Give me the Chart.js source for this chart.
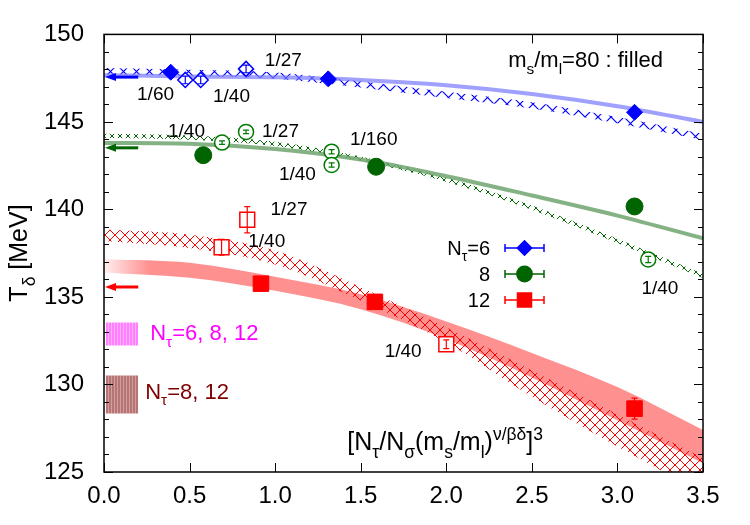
<!DOCTYPE html>
<html>
<head>
<meta charset="utf-8">
<script src="https://cdn.jsdelivr.net/npm/chart.js@4.4.1/dist/chart.umd.min.js"></script>
<style>
  body { margin: 0; background: #fff; }
  #wrap { width: 750px; height: 525px; }
</style>
</head>
<body>
<div id="wrap"><canvas id="chart" width="750" height="525"></canvas></div>
<script>
// ---- data ----
// Nt = 6 (diamonds)
const nt6X = [0.39, 1.31, 3.10];
const nt6Y = [147.84, 147.46, 145.55];
const nt6OpenX = [0.475, 0.565, 0.83];
const nt6OpenY = [147.4, 147.4, 148.03];
const nt6OpenErr = [0.22, 0.22, 0.22];

// Nt = 8 (circles)
const nt8X = [0.58, 1.59, 3.10];
const nt8Y = [143.1, 142.44, 140.17];
const nt8OpenX = [0.69, 0.83, 1.33, 1.33, 3.18];
const nt8OpenY = [143.82, 144.43, 143.3, 142.54, 137.14];
const nt8OpenErr = [0.1, 0.1, 0.12, 0.12, 0.18];

// Nt = 12 (squares)
const nt12X = [0.917, 1.583, 3.10];
const nt12Y = [135.76, 134.72, 128.62];
const nt12Err = [0, 0, 0.6];
const nt12OpenX = [0.687, 0.837, 2.0];
const nt12OpenY = [137.84, 139.41, 132.3];
const nt12OpenErr = [0.45, 0.75, 0.25];

// fitted curves and bands, sampled along x
const fitX = [0, 0.5, 1.0, 1.5, 2.0, 2.5, 3.0, 3.5];
const blueFit = [147.67, 147.6, 147.55, 147.4, 147.1, 146.6, 145.9, 145.0];
const blueZigHi = [148.08, 147.98, 147.83, 147.33, 146.73, 146.13, 145.28, 144.33];
const blueZigLo = [147.72, 147.62, 147.47, 146.97, 146.37, 145.77, 144.92, 143.97];
const greenFit = [143.8, 143.75, 143.45, 142.85, 141.9, 140.8, 139.65, 138.35];
const greenZigHi = [144.32, 144.22, 143.87, 143.02, 141.82, 140.22, 138.32, 136.32];
const greenZigLo = [144.08, 143.98, 143.63, 142.78, 141.58, 139.98, 138.08, 136.08];
const redHatchHi = [138.85, 138.56, 137.65, 135.55, 133.25, 130.8, 128.3, 125.8];
const redHatchLo = [138.2, 137.8, 136.86, 134.8, 132.4, 129.3, 126.45, 123.8];
const redBandHi = [137.15, 136.95, 136.15, 135.15, 133.6, 131.8, 129.85, 127.4];
const redBandLo = [136.4, 136.1, 135.35, 134.3, 132.6, 130.4, 127.95, 125.5];

// continuum bands at the left edge
const rectX = [0.01, 0.2];
const pinkBand = [133.54, 132.22];
const brownBand = [130.51, 128.34];

// arrows at x = 0 (chiral limit estimates)
const arrowY = [147.56, 143.52, 135.57];
const arrowColors = ["#0000ff", "#006400", "#ff0000"];
const arrowLen = 0.2;

// tick labels
const xTicks = [0, 0.5, 1.0, 1.5, 2.0, 2.5, 3.0, 3.5];
const yTicks = [125, 130, 135, 140, 145, 150];

// fraction labels next to the open symbols (data coords, text baseline)
const fracNotes = [
  { x: 0.94, y: 148.18, t: "1/27" },
  { x: 0.193, y: 146.25, t: "1/60" },
  { x: 0.637, y: 146.14, t: "1/40" },
  { x: 0.374, y: 144.15, t: "1/40" },
  { x: 0.923, y: 144.15, t: "1/27" },
  { x: 1.437, y: 143.68, t: "1/160" },
  { x: 1.022, y: 141.69, t: "1/40" },
  { x: 3.14, y: 135.17, t: "1/40" },
  { x: 0.973, y: 139.7, t: "1/27" },
  { x: 0.843, y: 137.84, t: "1/40" },
  { x: 1.64, y: 131.59, t: "1/40" },
];

const FONT = '"Liberation Sans", Arial, Helvetica, sans-serif';
Chart.defaults.font.family = FONT;
Chart.defaults.color = "#000";

const pts = (xs, ys) => xs.map((x, i) => ({ x, y: ys[i] }));

function hatch(color, size, width) {
  const c = document.createElement("canvas");
  c.width = c.height = size;
  const g = c.getContext("2d");
  g.strokeStyle = color;
  g.lineWidth = width;
  g.beginPath();
  g.moveTo(0, 0); g.lineTo(size, size);
  g.moveTo(size, 0); g.lineTo(0, size);
  g.stroke();
  return g.createPattern(c, "repeat");
}

function stripes(base, line, size) {
  const c = document.createElement("canvas");
  c.width = size; c.height = 4;
  const g = c.getContext("2d");
  g.fillStyle = base; g.fillRect(0, 0, size, 4);
  g.fillStyle = line; g.fillRect(0, 0, 1, 4);
  return g.createPattern(c, "repeat");
}

function rich(ctx, parts, x, y, size, align) {
  const f = (s) => s + "px " + FONT;
  let w = 0;
  parts.forEach(([t, m]) => { ctx.font = f(m ? size * 0.7 : size); w += ctx.measureText(t).width; });
  let cx = align === "right" ? x - w : align === "center" ? x - w / 2 : x;
  ctx.textAlign = "left";
  ctx.textBaseline = "alphabetic";
  parts.forEach(([t, m]) => {
    ctx.font = f(m ? size * 0.7 : size);
    const dy = m === "sub" ? size * 0.3 : m === "sup" ? -size * 0.42 : 0;
    ctx.fillText(t, cx, y + dy);
    cx += ctx.measureText(t).width;
  });
}

const edge = (data, extra) => Object.assign({
  data, showLine: true, pointRadius: 0, borderWidth: 0,
  borderColor: "transparent", cubicInterpolationMode: "monotone",
}, extra);

const redFade = (c) => {
  const a = c.chart.chartArea;
  if (!a) return "rgba(255,120,120,0.8)";
  const g = c.chart.ctx.createLinearGradient(a.left, 0, a.left + 45, 0);
  g.addColorStop(0, "rgba(255,120,120,0.12)");
  g.addColorStop(1, "rgba(255,120,120,0.82)");
  return g;
};

const legendRows = [
  { parts: [["N"], ["τ", "sub"], ["=6"]], ds: 0 },
  { parts: [["8"]], ds: 1 },
  { parts: [["12"]], ds: 2 },
];

const ink = {
  id: "ink",
  afterDatasetsDraw(chart) {
    const { ctx, scales: { x, y } } = chart;
    chart.data.datasets.forEach((ds) => {
      if (!ds.errors) return;
      ctx.save();
      ctx.strokeStyle = ds.borderColor;
      ctx.lineWidth = 1.2;
      ds.data.forEach((p, j) => {
        const e = ds.errors[j];
        if (!e) return;
        const px = x.getPixelForValue(p.x);
        const y1 = y.getPixelForValue(p.y - e), y2 = y.getPixelForValue(p.y + e);
        ctx.beginPath();
        ctx.moveTo(px, y1); ctx.lineTo(px, y2);
        ctx.moveTo(px - 3, y1); ctx.lineTo(px + 3, y1);
        ctx.moveTo(px - 3, y2); ctx.lineTo(px + 3, y2);
        ctx.stroke();
      });
      ctx.restore();
    });
  },
  afterDraw(chart) {
    const { ctx, chartArea: a, scales: { x, y } } = chart;
    ctx.save();

    // arrows
    arrowY.forEach((v, i) => {
      const py = y.getPixelForValue(v);
      const x0 = x.getPixelForValue(0), x1 = x.getPixelForValue(arrowLen);
      ctx.strokeStyle = ctx.fillStyle = arrowColors[i];
      ctx.lineWidth = 3;
      ctx.beginPath(); ctx.moveTo(x0 + 8, py); ctx.lineTo(x1, py); ctx.stroke();
      ctx.beginPath(); ctx.moveTo(x0 + 1, py); ctx.lineTo(x0 + 12, py - 4); ctx.lineTo(x0 + 12, py + 4); ctx.closePath(); ctx.fill();
    });

    // ticks (inward, mirrored)
    ctx.strokeStyle = "#000";
    ctx.lineWidth = 1;
    ctx.beginPath();
    for (let v = 125; v <= 150; v++) {
      const py = Math.round(y.getPixelForValue(v)) + 0.5;
      const L = v % 5 === 0 ? 9 : 5;
      ctx.moveTo(a.left, py); ctx.lineTo(a.left + L, py);
      ctx.moveTo(a.right, py); ctx.lineTo(a.right - L, py);
    }
    xTicks.forEach((v) => {
      const px = Math.round(x.getPixelForValue(v)) + 0.5;
      ctx.moveTo(px, a.bottom); ctx.lineTo(px, a.bottom - 9);
      ctx.moveTo(px, a.top); ctx.lineTo(px, a.top + 9);
    });
    ctx.stroke();
    ctx.lineWidth = 1.5;
    ctx.strokeRect(a.left, a.top, a.right - a.left, a.bottom - a.top);

    // fraction labels
    ctx.fillStyle = "#000";
    ctx.font = "19px " + FONT;
    ctx.textAlign = "left";
    ctx.textBaseline = "alphabetic";
    fracNotes.forEach((n) => ctx.fillText(n.t, x.getPixelForValue(n.x), y.getPixelForValue(n.y)));

    // note
    rich(ctx, [["m"], ["s", "sub"], ["/m"], ["l", "sub"], ["=80 : filled"]], 663, 67, 22, "right");

    // legend
    legendRows.forEach((r, i) => {
      const ds = chart.data.datasets[r.ds];
      const cy = 248 + i * 26;
      ctx.fillStyle = "#000";
      rich(ctx, r.parts, 490, cy + 7, 20, "right");
      ctx.strokeStyle = ds.borderColor;
      ctx.fillStyle = ds.backgroundColor;
      ctx.lineWidth = 1.5;
      ctx.beginPath();
      ctx.moveTo(505, cy); ctx.lineTo(544, cy);
      ctx.moveTo(505, cy - 4); ctx.lineTo(505, cy + 4);
      ctx.moveTo(544, cy - 4); ctx.lineTo(544, cy + 4);
      ctx.stroke();
      Chart.helpers.drawPoint(ctx, { pointStyle: ds.pointStyle, radius: ds.pointRadius * 0.9, rotation: 0, borderWidth: 1 }, 524.5, cy);
    });

    // continuum band labels
    const bx = x.getPixelForValue(rectX[1]);
    ctx.fillStyle = "#ff00ff";
    rich(ctx, [["N"], ["τ", "sub"], ["=6, 8, 12"]], bx + 12, y.getPixelForValue((pinkBand[0] + pinkBand[1]) / 2) + 6, 22, "left");
    ctx.fillStyle = "#800000";
    rich(ctx, [["N"], ["τ", "sub"], ["=8, 12"]], bx + 7, y.getPixelForValue((brownBand[0] + brownBand[1]) / 2) + 4, 22, "left");

    // axis titles
    ctx.fillStyle = "#000";
    rich(ctx, [["[N"], ["τ", "sub"], ["/N"], ["σ", "sub"], ["(m"], ["s", "sub"], ["/m"], ["l", "sub"], [")"], ["ν/βδ", "sup"], ["]"], ["3", "sup"]], 543, 450, 25, "right");
    ctx.translate(27, 253);
    ctx.rotate(-Math.PI / 2);
    rich(ctx, [["T"], ["δ", "sub"], [" [MeV]"]], 0, 0, 25, "center");
    ctx.restore();
  },
};

const datasets = [
  { label: "Nt=6", data: pts(nt6X, nt6Y), pointStyle: "rectRot", pointRadius: 8, backgroundColor: "#0000ff", borderColor: "#0000ff", borderWidth: 1 },
  { label: "8", data: pts(nt8X, nt8Y), pointStyle: "circle", pointRadius: 8.5, backgroundColor: "#006400", borderColor: "#006400", borderWidth: 1 },
  { label: "12", data: pts(nt12X, nt12Y), errors: nt12Err, pointStyle: "rect", pointRadius: 11, backgroundColor: "#ff0000", borderColor: "#ff0000", borderWidth: 1 },
  { data: pts(nt6OpenX, nt6OpenY), errors: nt6OpenErr, pointStyle: "rectRot", pointRadius: 7.5, backgroundColor: "#fff", borderColor: "#0000ff", borderWidth: 1.5 },
  { data: pts(nt8OpenX, nt8OpenY), errors: nt8OpenErr, pointStyle: "circle", pointRadius: 7.5, backgroundColor: "#fff", borderColor: "#007a00", borderWidth: 1.5 },
  { data: pts(nt12OpenX, nt12OpenY), errors: nt12OpenErr, pointStyle: "rect", pointRadius: 10.5, backgroundColor: "#fff", borderColor: "#ff0000", borderWidth: 1.5 },
  edge(pts(fitX, blueFit), { borderColor: "rgba(120,120,255,0.7)", borderWidth: 4 }),
  edge(pts(fitX, greenFit), { borderColor: "rgba(110,165,110,0.85)", borderWidth: 4 }),
  edge(pts(fitX, blueZigHi), { fill: "+1", backgroundColor: hatch("#0000ff", 13, 1.2) }),
  edge(pts(fitX, blueZigLo)),
  edge(pts(fitX, greenZigHi), { fill: "+1", backgroundColor: hatch("#006400", 8, 1) }),
  edge(pts(fitX, greenZigLo)),
  edge(pts(fitX, redHatchHi), { fill: "+1", backgroundColor: hatch("#ff0000", 10, 1) }),
  edge(pts(fitX, redHatchLo)),
  edge(pts(fitX, redBandHi), { fill: "+1", backgroundColor: redFade }),
  edge(pts(fitX, redBandLo)),
  edge(pts(rectX, [pinkBand[0], pinkBand[0]]), { fill: "+1", backgroundColor: stripes("#ff80ff", "#ffb0ff", 3) }),
  edge(pts(rectX, [pinkBand[1], pinkBand[1]])),
  edge(pts(rectX, [brownBand[0], brownBand[0]]), { fill: "+1", backgroundColor: stripes("#b87474", "#d0a0a0", 3) }),
  edge(pts(rectX, [brownBand[1], brownBand[1]])),
];

new Chart(document.getElementById("chart"), {
  type: "scatter",
  data: { datasets },
  options: {
    responsive: false,
    animation: false,
    events: [],
    devicePixelRatio: 1,
    layout: { padding: { top: 32, right: 47, left: 0, bottom: 0 } },
    plugins: { legend: { display: false }, tooltip: { enabled: false } },
    scales: {
      x: {
        type: "linear", min: 0, max: 3.5,
        afterFit: (s) => { s.height = 53; },
        afterBuildTicks: (s) => { s.ticks = xTicks.map((v) => ({ value: v })); },
        ticks: { font: { size: 24 }, padding: 10, callback: (v) => v.toFixed(1) },
        grid: { display: false, drawTicks: false },
        border: { display: false },
      },
      y: {
        type: "linear", min: 125, max: 150,
        afterFit: (s) => { s.width = 104; },
        afterBuildTicks: (s) => { s.ticks = yTicks.map((v) => ({ value: v })); },
        ticks: { font: { size: 24 }, padding: 20, callback: (v) => String(v) },
        grid: { display: false, drawTicks: false },
        border: { display: false },
      },
    },
  },
  plugins: [ink],
});
</script>
</body>
</html>
